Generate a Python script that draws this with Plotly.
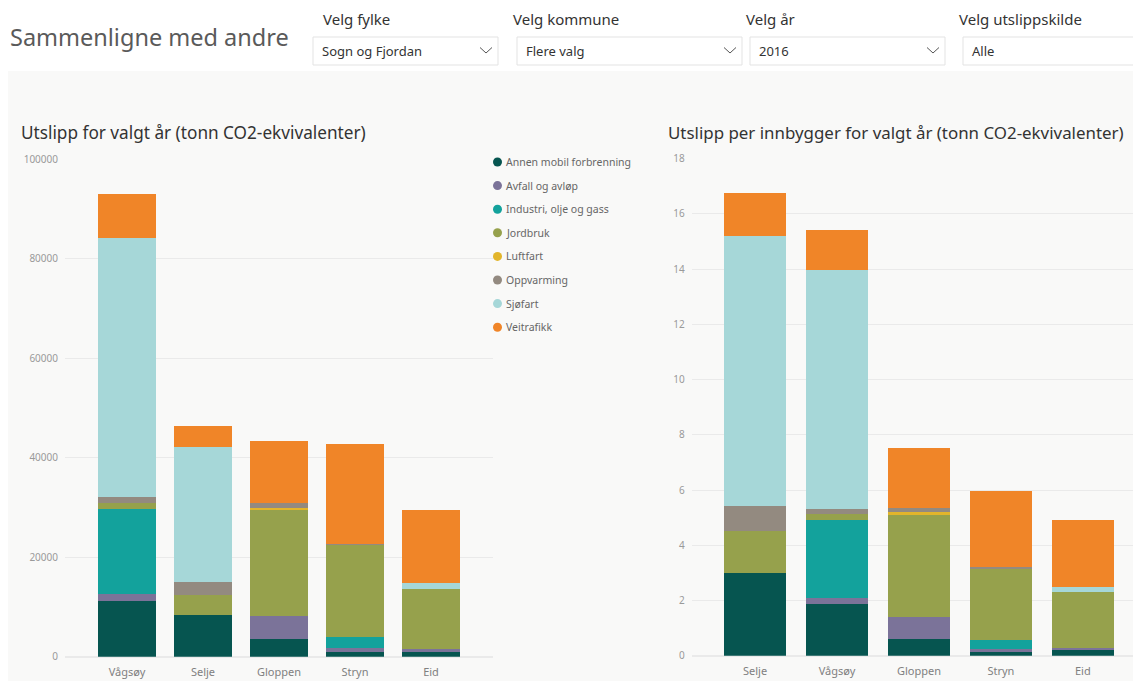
import plotly.graph_objects as go

# ---------------- data ----------------
sources = ["Annen mobil forbrenning", "Avfall og avløp", "Industri, olje og gass", "Jordbruk",
           "Luftfart", "Oppvarming", "Sjøfart", "Veitrafikk"]
colors = ["#065550", "#7b7399", "#13a29c", "#96a14c", "#e2b52b", "#938a80", "#a6d7d8", "#f08528"]

kommuner_total = ["Vågsøy", "Selje", "Gloppen", "Stryn", "Eid"]
annen_total = [11100, 8340, 3540, 870, 1000]
avfall_total = [1400, 0, 4600, 800, 540]
industri_total = [17200, 0, 0, 2330, 0]
jordbruk_total = [1260, 4140, 21400, 18540, 12060]
luftfart_total = [0, 0, 300, 0, 0]
oppvarming_total = [1060, 2460, 1080, 150, 0]
sjofart_total = [52180, 27140, 0, 0, 1270]
veitrafikk_total = [8680, 4260, 12460, 19980, 14600]

kommuner_per = ["Selje", "Vågsøy", "Gloppen", "Stryn", "Eid"]
annen_per = [3.01, 1.86, 0.61, 0.15, 0.19]
avfall_per = [0, 0.22, 0.80, 0.08, 0.08]
industri_per = [0, 2.84, 0, 0.34, 0]
jordbruk_per = [1.50, 0.22, 3.73, 2.61, 2.02]
luftfart_per = [0, 0, 0.05, 0, 0]
oppvarming_per = [0.91, 0.16, 0.17, 0.02, 0]
sjofart_per = [9.79, 8.67, 0, 0, 0.20]
veitrafikk_per = [1.53, 1.43, 2.17, 2.78, 2.44]

y_ticks_total = [0, 20000, 40000, 60000, 80000, 100000]
y_ticks_per = [0, 2, 4, 6, 8, 10, 12, 14, 16, 18]

slicer_titles = ["Velg fylke", "Velg kommune", "Velg år", "Velg utslippskilde"]
slicer_values = ["Sogn og Fjordan", "Flere valg", "2016", "Alle"]

# ---------------- layout helpers ----------------
W, H = 1141, 681
OFF = 8  # page body margin: figure is drawn 8px right and down of the window corner
def px(x):
    return (x - OFF) / W
def py(y):
    return 1 - (y - OFF) / H

FONT = "Noto Sans"
series_total = [annen_total, avfall_total, industri_total, jordbruk_total,
                luftfart_total, oppvarming_total, sjofart_total, veitrafikk_total]
series_per = [annen_per, avfall_per, industri_per, jordbruk_per,
              luftfart_per, oppvarming_per, sjofart_per, veitrafikk_per]

fig = go.Figure()
for name, col, vals in zip(sources, colors, series_total):
    fig.add_trace(go.Bar(x=kommuner_total, y=vals, name=name, marker=dict(color=col, line=dict(width=0)),
                         xaxis="x", yaxis="y", showlegend=False))
for name, col, vals in zip(sources, colors, series_per):
    fig.add_trace(go.Bar(x=kommuner_per, y=vals, name=name, marker=dict(color=col, line=dict(width=0)),
                         xaxis="x2", yaxis="y2", showlegend=False))

shapes = []
annotations = []

# top white band
shapes.append(dict(type="rect", xref="paper", yref="paper", x0=0, x1=1.02, y0=py(71), y1=1.02,
                   fillcolor="#ffffff", line=dict(width=0), layer="below"))

# header title
annotations.append(dict(text="Sammenligne med andre", x=px(8), y=py(37), xref="paper", yref="paper",
                        xanchor="left", yanchor="middle", showarrow=False,
                        font=dict(family=FONT, size=23.5, color="#5a5a5a")))

# slicers
slicer_x = [(313, 498), (517, 742), (750, 945), (963, 1160)]
title_x = [321, 511, 744, 957]
for (x0, x1), tx, t, v in zip(slicer_x, title_x, slicer_titles, slicer_values):
    annotations.append(dict(text=t, x=px(tx), y=py(18.5), xref="paper", yref="paper",
                            xanchor="left", yanchor="middle", showarrow=False,
                            font=dict(family=FONT, size=15, color="#333333")))
    shapes.append(dict(type="rect", xref="paper", yref="paper", x0=px(x0), x1=px(x1), y0=py(65), y1=py(37),
                       fillcolor="#ffffff", line=dict(color="#e3e3e3", width=1)))
    annotations.append(dict(text=v, x=px(x0 + 7), y=py(51), xref="paper", yref="paper",
                            xanchor="left", yanchor="middle", showarrow=False,
                            font=dict(family=FONT, size=13, color="#333333")))
    cx = min(x1 - 12, 1139)
    shapes.append(dict(type="path", xref="paper", yref="paper",
                       path=f"M {px(cx-6)},{py(47.5)} L {px(cx)},{py(53)} L {px(cx+6)},{py(47.5)}",
                       line=dict(color="#555555", width=1)))

# chart titles
annotations.append(dict(text="Utslipp for valgt år (tonn CO2-ekvivalenter)", x=px(19), y=py(133),
                        xref="paper", yref="paper", xanchor="left", yanchor="middle", showarrow=False,
                        font=dict(family=FONT, size=17.2, color="#333333")))
annotations.append(dict(text="Utslipp per innbygger for valgt år (tonn CO2-ekvivalenter)", x=px(666), y=py(133),
                        xref="paper", yref="paper", xanchor="left", yanchor="middle", showarrow=False,
                        font=dict(family=FONT, size=16.9, color="#333333")))

# legend (circle markers + labels)
for i, (name, col) in enumerate(zip(sources, colors)):
    yc = 162 + i * 23.6
    shapes.append(dict(type="circle", xref="paper", yref="paper",
                       x0=px(493), x1=px(502), y0=py(yc + 4.5), y1=py(yc - 4.5),
                       fillcolor=col, line=dict(width=0)))
    annotations.append(dict(text=name, x=px(504), y=py(yc), xref="paper", yref="paper",
                            xanchor="left", yanchor="middle", showarrow=False,
                            font=dict(family=FONT, size=10.5, color="#666666")))

axis_tick_font = dict(family=FONT, size=10, color="#9a9a9a")
x_tick_font = dict(family=FONT, size=11, color="#808080")

fig.update_layout(
    width=W, height=H, margin=dict(l=0, r=0, t=0, b=0, autoexpand=False),
    paper_bgcolor="#f9f9f8", plot_bgcolor="rgba(0,0,0,0)",
    barmode="stack", bargap=0.237,
    font=dict(family=FONT),
    shapes=shapes, annotations=annotations,
    xaxis=dict(domain=[px(65), px(493)], anchor="y", type="category", automargin=False,
               categoryorder="array", categoryarray=kommuner_total,
               range=[-0.816, 4.816], showgrid=False, showline=False, zeroline=False,
               ticks="", tickfont=x_tick_font, ticklabelstandoff=7, fixedrange=True),
    yaxis=dict(domain=[py(656.7), py(159)], anchor="x", range=[0, 100000], automargin=False,
               tickvals=y_ticks_total, ticktext=[str(v) for v in y_ticks_total],
               showgrid=True, gridcolor="#eaeaea", gridwidth=1, zeroline=True, zerolinecolor="#eaeaea",
               showline=False, ticks="", tickfont=axis_tick_font, ticklabelstandoff=6),
    xaxis2=dict(domain=[px(691.7), 1.0], anchor="y2", type="category", automargin=False,
                categoryorder="array", categoryarray=kommuner_per,
                range=[-0.773, 4.71 + 8 / 81.9], showgrid=False, showline=False, zeroline=False,
                ticks="", tickfont=x_tick_font, ticklabelstandoff=7),
    yaxis2=dict(domain=[py(655.7), py(158.7)], anchor="x2", range=[0, 18], automargin=False,
                tickvals=y_ticks_per, showgrid=True, gridcolor="#eaeaea", gridwidth=1,
                zeroline=True, zerolinecolor="#eaeaea", showline=False, ticks="",
                tickfont=axis_tick_font, ticklabelstandoff=6),
)

fig.write_html("out.html")
